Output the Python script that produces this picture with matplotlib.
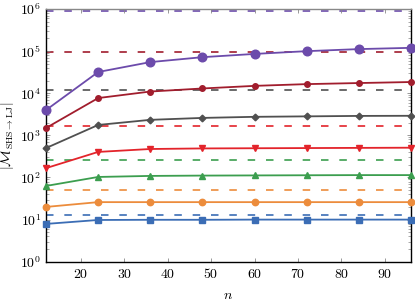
import matplotlib
matplotlib.use("Agg")
import matplotlib.pyplot as plt
import matplotlib.ticker as ticker
import numpy as np

plt.rcParams["font.family"] = "DejaVu Serif"
plt.rcParams["mathtext.fontset"] = "cm"

# system sizes
n = [12, 24, 36, 48, 60, 72, 84, 96]

# |M| per series
blue = [7.9, 9.8, 9.9, 9.9, 10.0, 10.0, 10.0, 10.0]
orange = [20, 26, 26, 26, 26, 26, 26, 26]
green = [63, 103, 109, 111, 112, 113, 114, 114]
red = [167, 405, 475, 490, 495, 500, 505, 510]
gray = [500, 1770, 2340, 2600, 2760, 2830, 2900, 2920]
darkred = [1500, 7700, 11000, 13000, 15000, 16500, 17500, 18500]
purple = [4000, 32000, 55000, 72000, 86000, 100000, 112000, 120000]

# horizontal reference levels (dashed)
refs = [12.9, 50, 260, 1660, 11700, 98000, 900000]

colors = ["#3b6db5", "#ec8c3c", "#3c9e4f", "#e3242b", "#505050", "#a11d2d", "#6c4bab"]
markers = ["s", "o", "^", "v", "D", "o", "o"]
msizes = [4.2, 4.6, 4.6, 4.6, 3.4, 4.0, 6.2]
series = [blue, orange, green, red, gray, darkred, purple]

fig = plt.figure(figsize=(4.15, 3.02), dpi=100)
ax = fig.add_axes([0.111, 0.1334, 0.879, 0.8366])

for ys, c, m, ms, ref in zip(series, colors, markers, msizes, refs):
    ax.axhline(ref, color=c, linestyle=(0, (4.5, 6.5)), linewidth=1.2, zorder=1)
    ax.plot(n, ys, color=c, marker=m, markersize=ms, linewidth=1.3,
            clip_on=False, zorder=3)

ax.set_yscale("log")
ax.set_ylim(1, 1e6)
ax.set_xlim(12, 96)
ax.xaxis.set_major_locator(ticker.FixedLocator([20, 30, 40, 50, 60, 70, 80, 90]))
ax.xaxis.set_major_formatter(ticker.FuncFormatter(lambda v, p: r"$%d$" % v))
ax.yaxis.set_major_locator(ticker.FixedLocator([1, 10, 100, 1e3, 1e4, 1e5, 1e6]))
ax.yaxis.set_major_formatter(ticker.FuncFormatter(lambda v, p: r"$10^{%d}$" % round(np.log10(v))))
minor = [m * 10**e for e in range(6) for m in range(2, 10)]
ax.yaxis.set_minor_locator(ticker.FixedLocator(minor))
ax.yaxis.set_minor_formatter(ticker.NullFormatter())

ax.tick_params(which="both", direction="in", top=True, right=True, labelsize=10)
ax.tick_params(which="major", length=3, width=0.6, color="#888888")
ax.tick_params(which="minor", length=2, width=0.5, color="#888888")

for side in ["left", "bottom", "right"]:
    ax.spines[side].set_color("black")
    ax.spines[side].set_linewidth(1.0)
ax.spines["top"].set_color("#888888")
ax.spines["top"].set_linewidth(1.0)

ax.set_xlabel(r"$n$", fontsize=10)
ax.set_ylabel(r"$|\mathcal{M}_{\mathrm{SHS}\to\mathrm{LJ}}|$", fontsize=10)
ax.yaxis.set_label_coords(-0.082, 0.5)
ax.xaxis.set_label_coords(0.5, -0.105)

fig.savefig("out.png", dpi=100)
